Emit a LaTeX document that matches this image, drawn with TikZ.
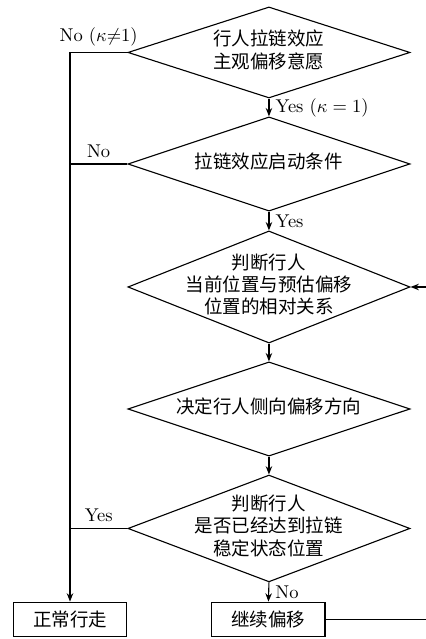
\documentclass[tikz,border=0pt]{standalone}
\usepackage{fontspec}
\newfontfamily\cjk{Noto Sans CJK SC}
\usetikzlibrary{shapes.geometric,arrows.meta}
\newcommand{\dtext}[1]{\makebox[0pt]{\raisebox{-2.5pt}[0pt][0pt]{\cjk\begin{tabular}{@{}c@{}}#1\end{tabular}}}}
\begin{document}
\begin{tikzpicture}[line width=0.6pt,
  decision/.style={diamond, draw, inner sep=0pt, minimum width=5.36cm},
  process/.style={rectangle, draw, inner sep=0pt, minimum width=2.15cm, minimum height=0.66cm},
  arrow/.style={-{Stealth[length=4.5pt,width=3.5pt]}}]
\useasboundingbox (0,0) rectangle (8.075,12.141);
\node [decision, minimum height=1.73cm] (will) at (5.11,11.144) {\dtext{行人拉链效应\\主观偏移意愿}};
\node [decision, minimum height=1.79cm] (start) at (5.11,9.025) {\dtext{拉链效应启动条件}};
\node [decision, minimum height=2.13cm] (rel) at (5.11,6.688) {\dtext{判断行人\\当前位置与预估偏移\\位置的相对关系}};
\node [decision, minimum height=1.79cm] (dir) at (5.11,4.37) {\dtext{决定行人侧向偏移方向}};
\node [decision, minimum height=2.03cm] (reach) at (5.11,2.10) {\dtext{判断行人\\是否已经达到拉链\\稳定状态位置}};
\node [process] (walk) at (1.33,0.37) {\cjk 正常行走};
\node [process] (goon) at (5.10,0.37) {\cjk 继续偏移};
% main branch
\draw [arrow] (will.south) -- node [right] {Yes ($\kappa=1$)} (start.north);
\draw [arrow] (start.south) -- node [right] {Yes} (rel.north);
\draw [arrow] (rel.south) -- (dir.north);
\draw [arrow] (dir.south) -- (reach.north);
\draw [arrow] (reach.south) -- node [right] {No} (goon.north);
% exits to the left
\draw [arrow] (will.west) -- node [above] {No ($\kappa{\neq}1$)} (will.west -| walk) -- (walk.north);
\draw (start.west) -- node [above] {No} (start.west -| walk);
\draw (reach.west) -- node [above] {Yes} (reach.west -| walk);
% loop back
\draw [arrow] (goon.east) -- ++(2.6,0) |- (rel.east);
\end{tikzpicture}
\end{document}
